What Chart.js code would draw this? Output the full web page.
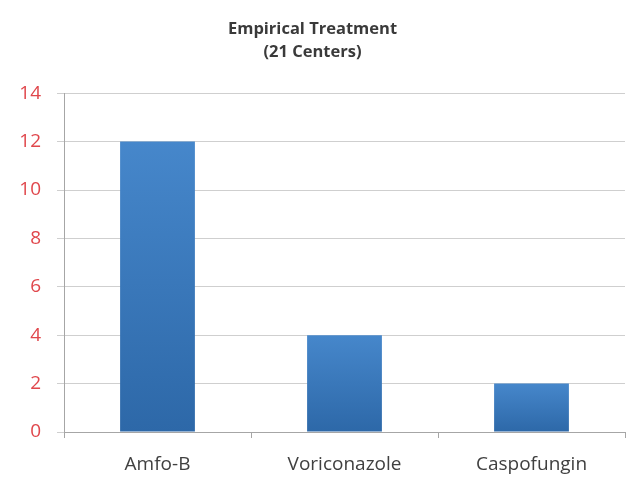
<!DOCTYPE html>
<html>
<head>
<meta charset="utf-8">
<script src="https://cdn.jsdelivr.net/npm/chart.js@4"></script>
<style>
  html, body { margin: 0; padding: 0; background: #fff; }
  #wrap { width: 628px; height: 477px; }
</style>
</head>
<body>
<div id="wrap"><canvas id="chart-empirical"></canvas></div>
<script>
const categories = ['Amfo-B', 'Voriconazole', 'Caspofungin'];
const centers = [12, 4, 2];
const titleLines = ['Empirical Treatment', '(21 Centers)'];

// per-bar vertical gradient, like the old office charts
function barFill(context) {
  const chart = context.chart;
  if (!chart.chartArea || context.raw == null) return '#3a7bbf';
  const y = chart.scales.y;
  const top = y.getPixelForValue(context.raw);
  const bottom = y.getPixelForValue(0);
  const g = chart.ctx.createLinearGradient(0, top, 0, bottom);
  g.addColorStop(0, '#4687cb');
  g.addColorStop(1, '#2d68a8');
  return g;
}

const ctx = document.getElementById('chart-empirical').getContext('2d');
new Chart(ctx, {
  type: 'bar',
  data: {
    labels: categories,
    datasets: [
      {
        data: centers,
        backgroundColor: barFill,
        borderWidth: 0,
        categoryPercentage: 1,
        barPercentage: 0.4,
      },
    ],
  },
  options: {
    responsive: true,
    maintainAspectRatio: false,
    animation: false,
    layout: { padding: { left: 0, right: 3, top: 0, bottom: 0 } },
    plugins: {
      legend: { display: false },
      tooltip: { enabled: false },
      title: {
        display: true,
        text: titleLines,
        color: '#3a3a3a',
        font: { family: 'Open Sans', size: 16.5, weight: 'bold', lineHeight: 1.4 },
        padding: { top: 18, bottom: 29 },
      },
    },
    scales: {
      x: {
        grid: { drawOnChartArea: false, drawTicks: true, tickLength: 6, color: '#a6a6a6' },
        border: { display: true, color: '#a6a6a6' },
        ticks: { color: '#404040', font: { family: 'Open Sans', size: 19 }, padding: 15 },
        afterFit: (scale) => { scale.height = 45; },
      },
      y: {
        min: 0,
        max: 14,
        ticks: { stepSize: 2, color: '#e0474c', font: { family: 'Open Sans', size: 19 }, padding: 16 },
        grid: { color: '#cfcfcf', tickLength: 7 },
        border: { display: true, color: '#a6a6a6' },
        afterFit: (scale) => { scale.width = 64; },
      },
    },
  },
});
</script>
</body>
</html>
